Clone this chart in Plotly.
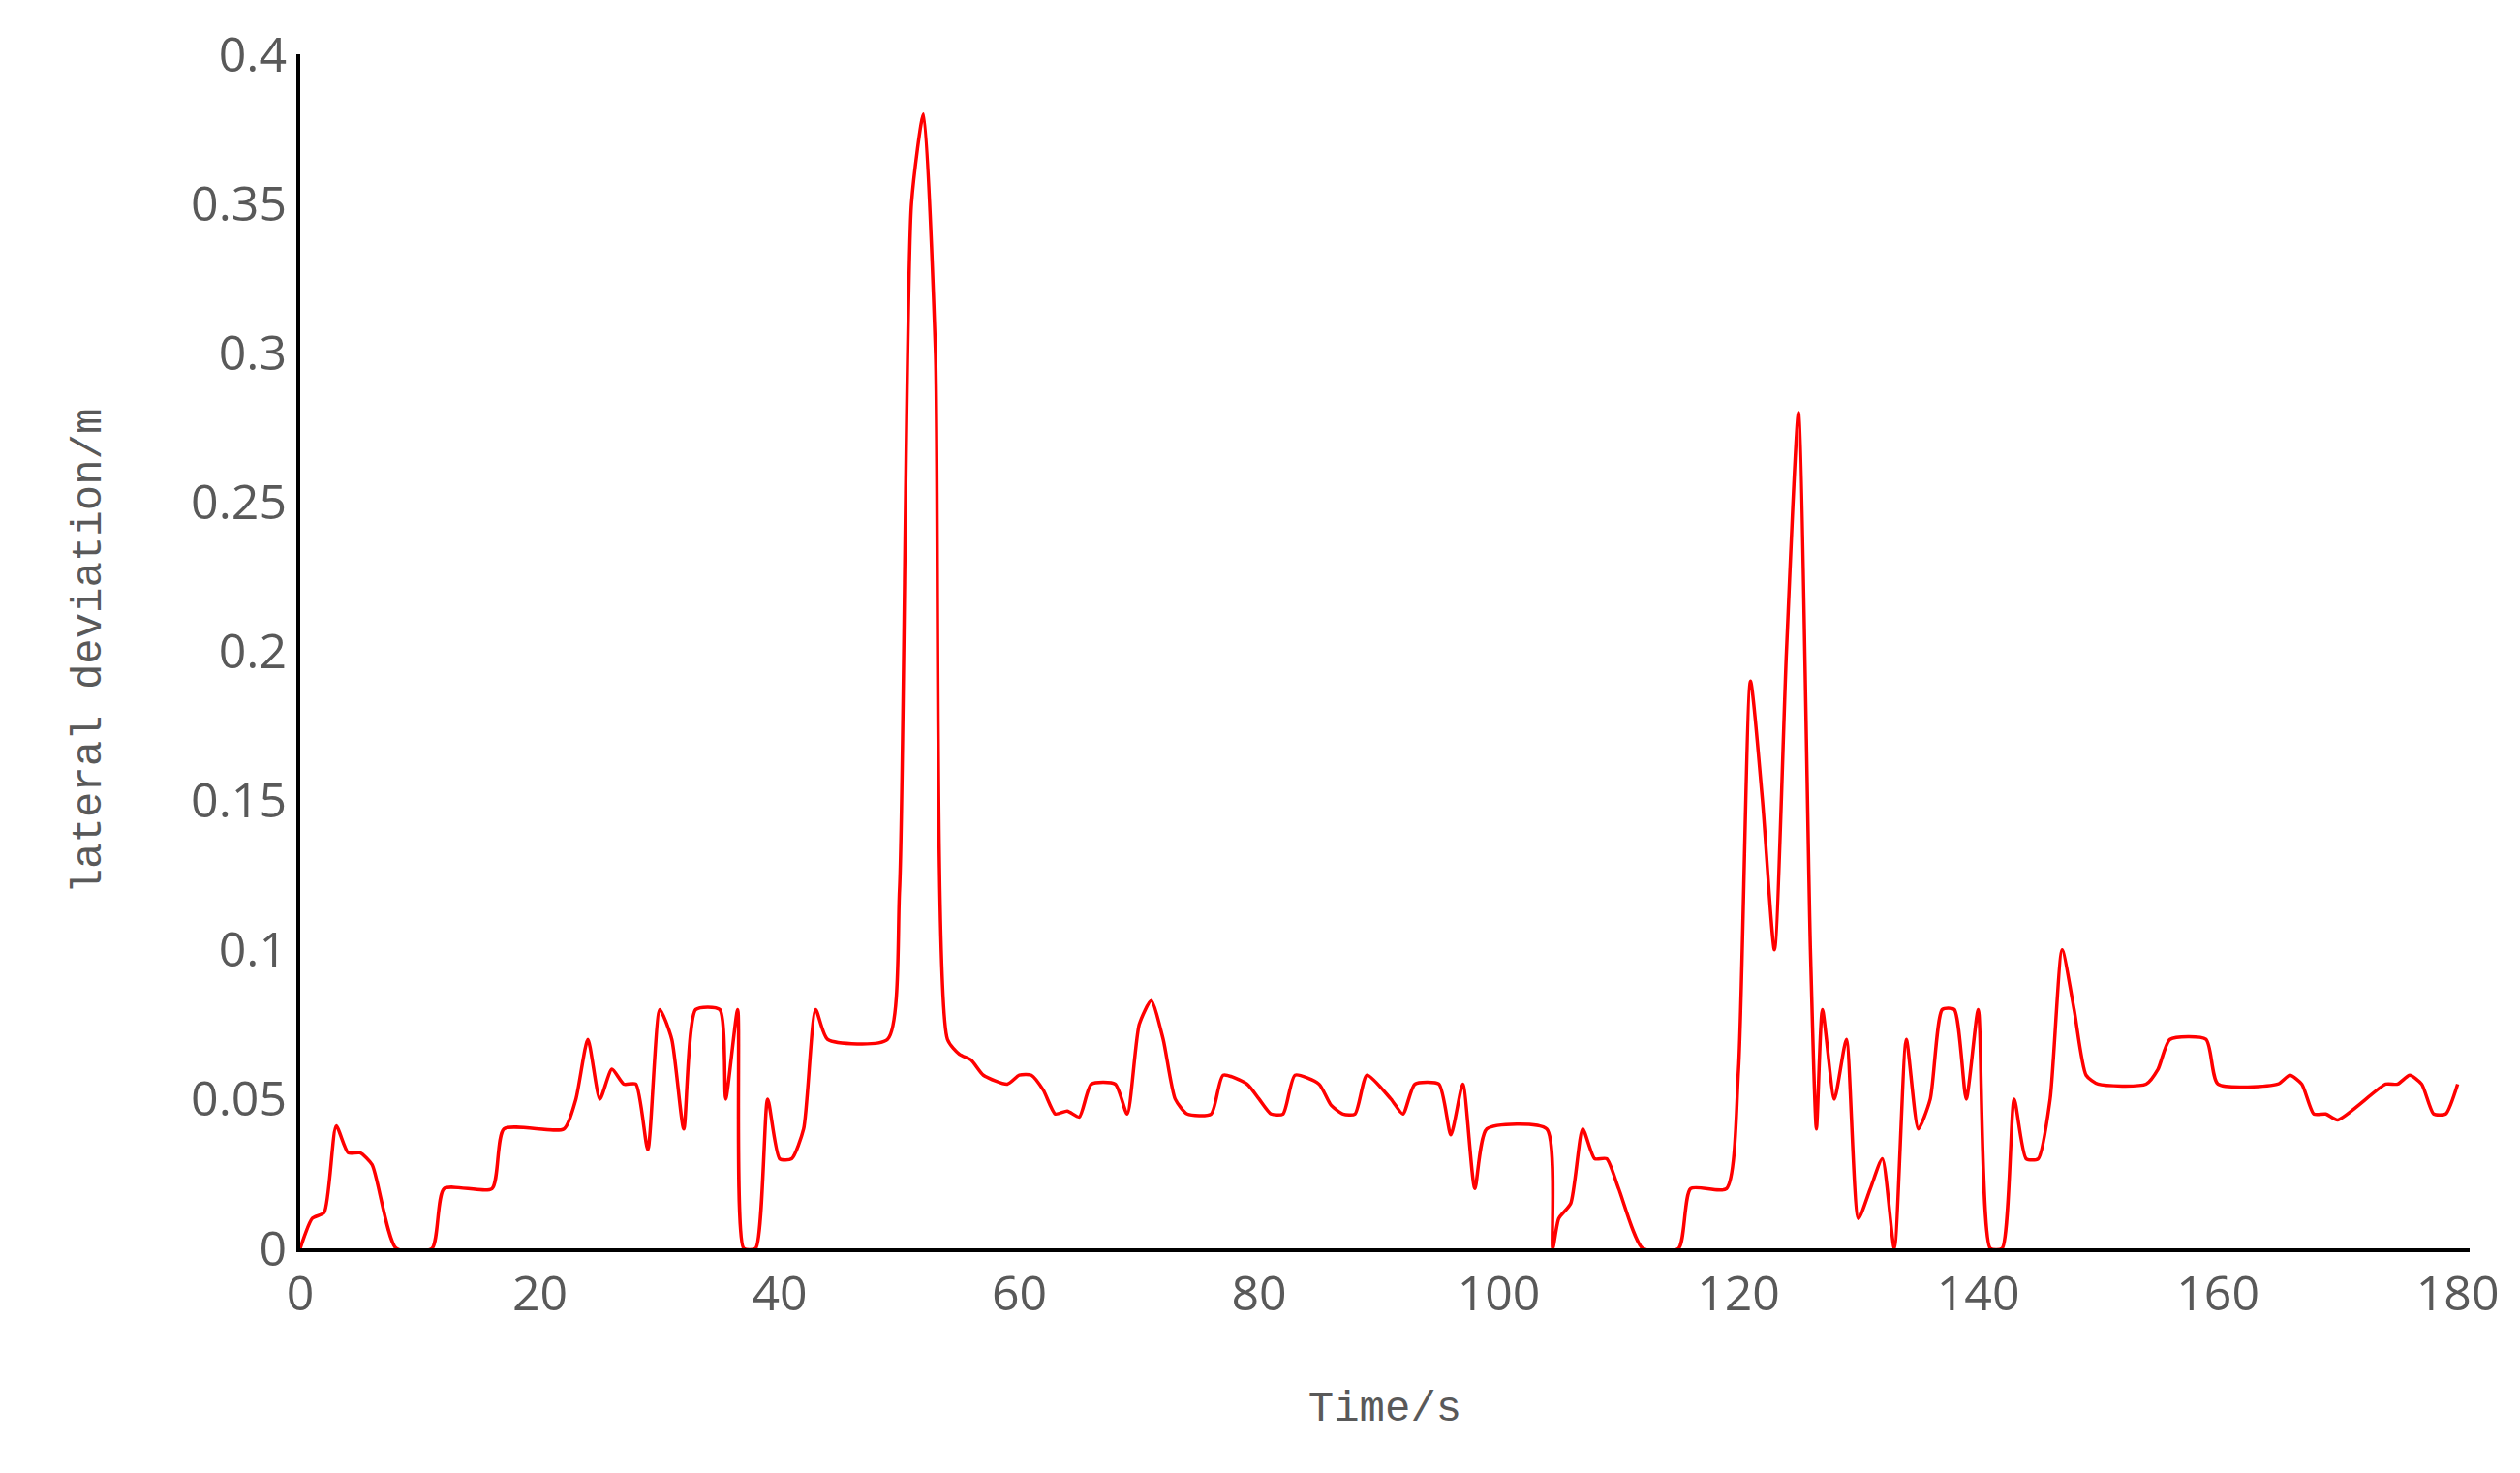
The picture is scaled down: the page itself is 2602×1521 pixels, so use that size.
import plotly.graph_objects as go

t = [0,1,2,3,4,5,6,8,11,12,16,17,22,23,24,25,26,27,28,29,30,31,32,33,35,35.5,36.5,37,38,39,40,41,42,43,44,49,50,51,52,53,54,55,56,57,59,60,61,62,63,64,65,66,68,69,70,71,72,73,74,76,77,79,80,81,82,83,85,86,87,88,89,91,92,93,95,96,97,98,99,104,104.5,105,106,107,108,109,110,112,115,116,119,120,121,122,123,124,125,126,126.5,127,128,129,130,131,132,133,134,135,136,137,138,139,140,141,142,143,144,145,146,147,148,149,150,154,155,156,159,160,165,166,167,168,169,170,174,175,176,177,178,179,180]
dev = [0,0.01,0.012,0.041,0.032,0.032,0.028,0,0,0.02,0.02,0.04,0.04,0.05,0.07,0.05,0.06,0.055,0.055,0.033,0.08,0.07,0.04,0.08,0.08,0.05,0.08,0,0,0.05,0.03,0.03,0.04,0.08,0.07,0.07,0.12,0.35,0.38,0.3,0.07,0.065,0.063,0.058,0.055,0.058,0.058,0.053,0.045,0.046,0.044,0.055,0.055,0.045,0.075,0.083,0.07,0.05,0.045,0.045,0.058,0.055,0.05,0.045,0.045,0.058,0.055,0.048,0.045,0.045,0.058,0.05,0.045,0.055,0.055,0.038,0.055,0.02,0.04,0.04,0,0.01,0.015,0.04,0.03,0.03,0.02,0,0,0.02,0.02,0.06,0.19,0.15,0.1,0.2,0.28,0.1,0.04,0.08,0.05,0.07,0.01,0.02,0.03,0,0.07,0.04,0.05,0.08,0.08,0.05,0.08,0,0,0.05,0.03,0.03,0.05,0.1,0.08,0.058,0.055,0.055,0.06,0.07,0.07,0.055,0.055,0.058,0.055,0.045,0.045,0.043,0.055,0.055,0.058,0.055,0.045,0.045,0.055]
x_ticks = [0,20,40,60,80,100,120,140,160,180]
y_ticks = [0,0.05,0.1,0.15,0.2,0.25,0.3,0.35,0.4]
y_labels = ["0","0.05","0.1","0.15","0.2","0.25","0.3","0.35","0.4"]

fig = go.Figure(go.Scatter(x=t, y=dev, mode="lines",
    line=dict(color="#ff0000", width=3.5, shape="spline", smoothing=0.6)))
tick_font = dict(family="Open Sans, Liberation Sans, sans-serif", size=50, color="#595959")
title_font = dict(family="Liberation Mono, DejaVu Sans Mono, monospace", size=44, color="#595959")
fig.update_layout(
    width=2602, height=1521, plot_bgcolor="white", paper_bgcolor="white",
    margin=dict(l=302, r=60, t=46, b=240), showlegend=False,
    xaxis=dict(range=[0, 181], tickvals=x_ticks, ticks="", showgrid=False,
               showline=True, linecolor="black", linewidth=4, zeroline=False,
               tickfont=tick_font, title=dict(text="Time/s", font=title_font, standoff=70)),
    yaxis=dict(range=[0, 0.4], tickvals=y_ticks, ticktext=y_labels, ticks="", showgrid=False,
               showline=True, linecolor="black", linewidth=4, zeroline=False,
               tickfont=tick_font, title=dict(text="lateral deviation/m", font=title_font, standoff=80)),
)
fig.write_html("out.html")
